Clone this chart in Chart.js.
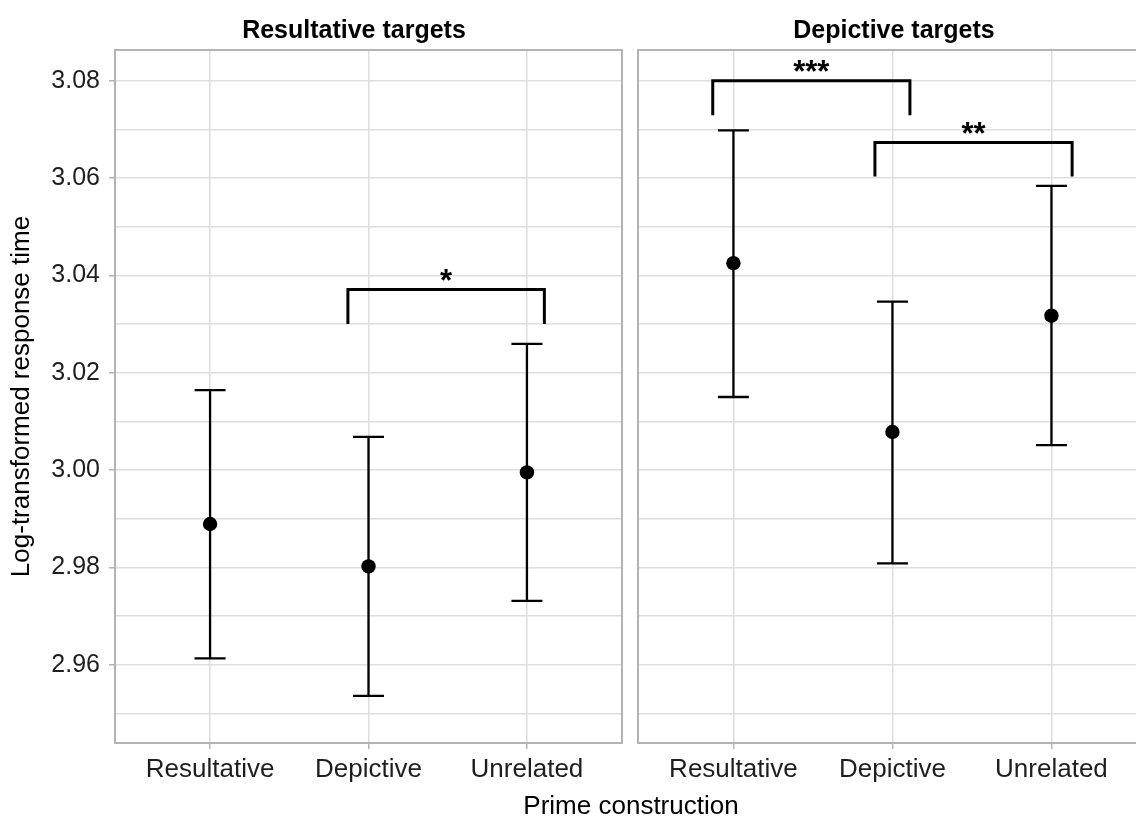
<!DOCTYPE html>
<html><head><meta charset="utf-8">
<script src="https://cdn.jsdelivr.net/npm/chart.js@4.4.1/dist/chart.umd.min.js"></script>
<style>
html,body{margin:0;padding:0;background:#fff;overflow:hidden;width:1136px;height:821px;position:relative;}
#c1{position:absolute;left:0;top:0;}
#c2{position:absolute;left:630px;top:0;}
.lbl{position:absolute;font-family:'Liberation Sans',Arial,sans-serif;color:#000;white-space:nowrap;text-align:center;width:600px;}
</style></head><body>
<canvas id="c1" width="630" height="821"></canvas>
<canvas id="c2" width="515" height="821"></canvas>
<div class="lbl" id="t1" style="left:54px;top:17px;font-size:25px;line-height:25px;font-weight:bold;"></div>
<div class="lbl" id="t2" style="left:594px;top:17px;font-size:25px;line-height:25px;font-weight:bold;"></div>
<div class="lbl" id="xt" style="left:331px;top:792px;font-size:26px;line-height:26px;"></div>
<script>
// ---- data ----
const categories = ['Resultative', 'Depictive', 'Unrelated'];
const panelTitles = ['Resultative targets', 'Depictive targets'];
const xAxisTitle = 'Prime construction';
const yAxisTitle = 'Log-transformed response time';

const resultativeMean  = [2.9889, 2.9802, 2.9995];
const resultativeLower = [2.9613, 2.9536, 2.9731];
const resultativeUpper = [3.0164, 3.0068, 3.0259];

const depictiveMean  = [3.0425, 3.0078, 3.0317];
const depictiveLower = [3.0150, 2.9808, 3.0051];
const depictiveUpper = [3.0698, 3.0346, 3.0584];

const yTickValues  = [2.96, 2.98, 3.00, 3.02, 3.04, 3.06, 3.08];
const yMinorValues = [2.95, 2.97, 2.99, 3.01, 3.03, 3.05, 3.07];
const yRange = [2.9439, 3.0863];

// significance brackets
const sigPanel = [0, 1, 1];
const sigFrom  = [0.87, -0.13, 0.89];
const sigTo    = [2.11, 1.11, 2.13];
const sigTop   = [3.0371, 3.0800, 3.0673];
const sigLeg   = [3.0300, 3.0729, 3.0603];
const sigLabel = ['*', '***', '**'];

// ---- rendering ----
document.getElementById('t1').textContent = panelTitles[0];
document.getElementById('t2').textContent = panelTitles[1];
document.getElementById('xt').textContent = xAxisTitle;

const FAMILY = "'Liberation Sans', Arial, sans-serif";
const GRID = '#dedede';
const BORDER = '#b3b3b3';
const isMajor = v => yTickValues.some(t => Math.abs(t - v) < 1e-9);

function makePanel(canvasId, panelIndex, means, lowers, uppers, isLeft) {
  const overlay = {
    id: 'overlay' + panelIndex,
    beforeDatasetsDraw(chart) {
      const ctx = chart.ctx, a = chart.chartArea;
      const xs = chart.scales.x, ys = chart.scales.y;
      ctx.save();
      // panel border
      ctx.strokeStyle = BORDER; ctx.lineWidth = 2;
      ctx.beginPath();
      if (isLeft) {
        ctx.rect(a.left, a.top, a.right - a.left, a.bottom - a.top);
      } else {
        ctx.moveTo(a.right + 20, a.top); ctx.lineTo(a.left, a.top);
        ctx.lineTo(a.left, a.bottom); ctx.lineTo(a.right + 20, a.bottom);
      }
      ctx.stroke();
      // error bars
      ctx.strokeStyle = '#000'; ctx.lineWidth = 2.3; ctx.lineCap = 'butt';
      for (let i = 0; i < categories.length; i++) {
        const px = xs.getPixelForValue(i);
        const yl = ys.getPixelForValue(lowers[i]);
        const yu = ys.getPixelForValue(uppers[i]);
        ctx.beginPath();
        ctx.moveTo(px, yl); ctx.lineTo(px, yu);
        ctx.moveTo(px - 15.5, yl); ctx.lineTo(px + 15.5, yl);
        ctx.moveTo(px - 15.5, yu); ctx.lineTo(px + 15.5, yu);
        ctx.stroke();
      }
      ctx.restore();
    },
    afterDatasetsDraw(chart) {
      const ctx = chart.ctx;
      const xs = chart.scales.x, ys = chart.scales.y;
      ctx.save();
      ctx.strokeStyle = '#000'; ctx.fillStyle = '#000';
      ctx.lineWidth = 3; ctx.lineJoin = 'miter'; ctx.lineCap = 'butt';
      for (let k = 0; k < sigLabel.length; k++) {
        if (sigPanel[k] !== panelIndex) continue;
        const x1 = xs.getPixelForValue(sigFrom[k]);
        const x2 = xs.getPixelForValue(sigTo[k]);
        const yt = ys.getPixelForValue(sigTop[k]);
        const yl = ys.getPixelForValue(sigLeg[k]);
        ctx.beginPath();
        ctx.moveTo(x1, yl); ctx.lineTo(x1, yt); ctx.lineTo(x2, yt); ctx.lineTo(x2, yl);
        ctx.stroke();
        ctx.font = 'bold 31px ' + FAMILY;
        ctx.textAlign = 'center'; ctx.textBaseline = 'alphabetic';
        ctx.fillText(sigLabel[k], (x1 + x2) / 2, yt + 1.5);
      }
      ctx.restore();
    }
  };

  const yScale = isLeft ? {
    type: 'linear', min: yRange[0], max: yRange[1],
    afterBuildTicks: s => { s.ticks = [...yMinorValues, ...yTickValues].sort((a, b) => a - b).map(v => ({ value: v })); },
    afterFit: s => { s.width = 115; },
    grid: { color: GRID, lineWidth: 1.5, drawTicks: true, tickLength: 6, tickWidth: 1.5,
            tickColor: c => (c.tick && isMajor(c.tick.value)) ? BORDER : 'rgba(0,0,0,0)' },
    border: { display: false },
    ticks: { autoSkip: false, callback: v => isMajor(v) ? v.toFixed(2) : '',
             font: { family: FAMILY, size: 25 }, color: '#1e1e1e', padding: 9 },
    title: { display: true, text: yAxisTitle, color: '#000',
             font: { family: FAMILY, size: 26 }, padding: { top: 6, bottom: 0 } }
  } : {
    type: 'linear', min: yRange[0], max: yRange[1],
    afterBuildTicks: s => { s.ticks = [...yMinorValues, ...yTickValues].sort((a, b) => a - b).map(v => ({ value: v })); },
    afterFit: s => { s.width = 0; },
    grid: { color: GRID, lineWidth: 1.5, drawTicks: false },
    border: { display: false },
    ticks: { display: false }
  };

  return new Chart(document.getElementById(canvasId), {
    type: 'scatter',
    data: {
      datasets: [{
        data: means.map((m, i) => ({ x: i, y: m })),
        pointRadius: 7.2, pointHoverRadius: 7.2,
        backgroundColor: '#000', borderColor: '#000', borderWidth: 0, showLine: false
      }]
    },
    options: {
      responsive: false, animation: false, devicePixelRatio: 1,
      layout: { padding: isLeft ? { top: 50, right: 8, left: 0, bottom: 0 } : { top: 50, right: 0, left: 8, bottom: 0 } },
      plugins: { legend: { display: false }, tooltip: { enabled: false }, title: { display: false } },
      scales: {
        x: {
          type: 'linear', min: -0.6, max: isLeft ? 2.6 : 2.543,
          afterBuildTicks: s => { s.ticks = categories.map((c, i) => ({ value: i })); },
          afterFit: s => { s.height = 78; },
          grid: { color: GRID, lineWidth: 1.5, tickLength: 6, tickWidth: 1.5, tickColor: BORDER },
          border: { display: false },
          ticks: { autoSkip: false, maxRotation: 0, callback: v => categories[v] ?? '',
                   font: { family: FAMILY, size: 26 }, color: '#1e1e1e', padding: 5 }
        },
        y: yScale
      }
    },
    plugins: [overlay]
  });
}

makePanel('c1', 0, resultativeMean, resultativeLower, resultativeUpper, true);
makePanel('c2', 1, depictiveMean, depictiveLower, depictiveUpper, false);
</script>
</body></html>
